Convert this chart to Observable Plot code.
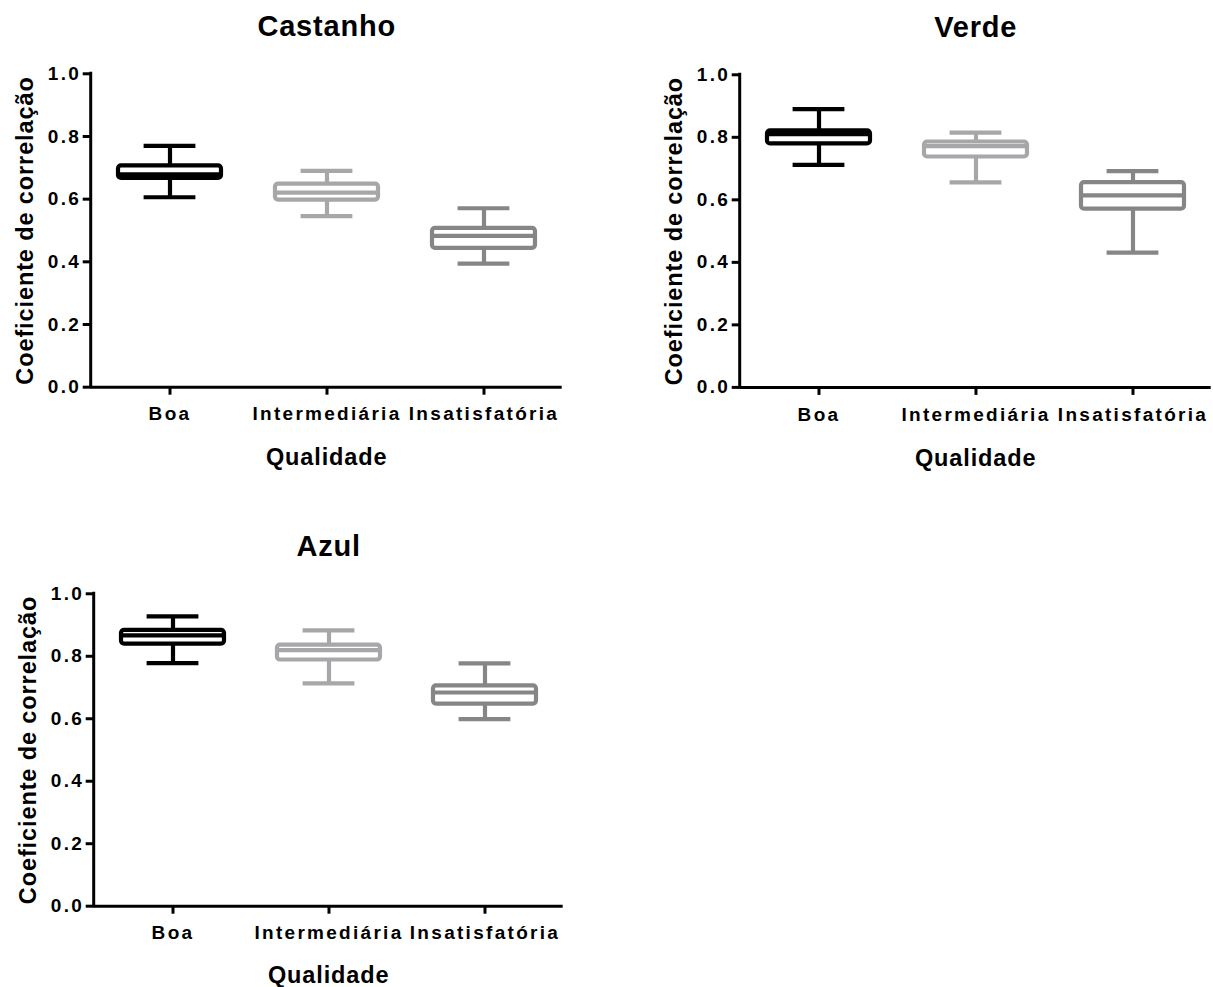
<!DOCTYPE html>
<html>
<head>
<meta charset="utf-8">
<script src="https://cdn.jsdelivr.net/npm/d3@7"></script>
<script src="https://cdn.jsdelivr.net/npm/@observablehq/plot@0.6"></script>
<style>
  html, body { margin: 0; padding: 0; background: #ffffff; }
  #wrap { position: relative; width: 1213px; height: 987px; overflow: hidden; background: #ffffff; }
  #wrap svg { position: absolute; }
</style>
</head>
<body>
<div id="wrap"></div>
<script>
// ---- data ----
const categories = ["Boa", "Intermediária", "Insatisfatória"];
const boxColors = ["#000000", "#a7a7a9", "#868686"];
const yTicks = [0, 0.2, 0.4, 0.6, 0.8, 1.0];
const yLabel = "Coeficiente de correlação";
const xLabel = "Qualidade";

const castanhoMin = [0.606, 0.546, 0.394];
const castanhoQ1  = [0.666, 0.597, 0.443];
const castanhoMed = [0.679, 0.621, 0.483];
const castanhoQ3  = [0.706, 0.648, 0.507];
const castanhoMax = [0.770, 0.690, 0.571];

const verdeMin = [0.712, 0.656, 0.431];
const verdeQ1  = [0.779, 0.737, 0.570];
const verdeMed = [0.810, 0.772, 0.614];
const verdeQ3  = [0.821, 0.785, 0.655];
const verdeMax = [0.890, 0.815, 0.692];

const azulMin = [0.778, 0.713, 0.599];
const azulQ1  = [0.839, 0.788, 0.647];
const azulMed = [0.867, 0.820, 0.684];
const azulQ3  = [0.883, 0.836, 0.705];
const azulMax = [0.928, 0.883, 0.777];

const font = "'Liberation Sans', Arial, Helvetica, sans-serif";

function panel(title, mins, q1s, meds, q3s, maxs, opts) {
  const rows = categories.map((c, i) => ({
    cat: c, min: mins[i], q1: q1s[i], med: meds[i], q3: q3s[i], max: maxs[i], color: boxColors[i]
  }));
  const mL = 90.7, mT = 73.3, frameH = opts.frameH;
  const H = 480;
  const W = mL + opts.frameW + opts.mR;
  const yAxisLine = (index, scales, values, dims) => {
    return d3.create("svg:line")
      .attr("x1", dims.marginLeft).attr("x2", dims.marginLeft)
      .attr("y1", scales.y(0)).attr("y2", scales.y(1))
      .attr("stroke", "#000").attr("stroke-width", 3)
      .attr("stroke-linecap", "square").node();
  };
  const svg = Plot.plot({
    width: W, height: H,
    marginLeft: mL, marginTop: mT, marginRight: opts.mR, marginBottom: H - mT - frameH,
    x: { domain: categories, paddingInner: 0.342, paddingOuter: 0.171, axis: null },
    y: { domain: [0, 1], axis: null },
    color: { type: "identity" },
    style: { fontFamily: font, background: "transparent", color: "#000", overflow: "visible" },
    marks: [
      Plot.ruleX(rows, { x: "cat", y1: "min", y2: "q1", stroke: "color", strokeWidth: 4.2 }),
      Plot.ruleX(rows, { x: "cat", y1: "q3", y2: "max", stroke: "color", strokeWidth: 4.2 }),
      Plot.barY(rows, { x: "cat", y1: "q1", y2: "q3", fill: "white", stroke: "color", strokeWidth: 4.2, rx: 3 }),
      Plot.tickY(rows, { x: "cat", y: "med", stroke: "color", strokeWidth: 4.2 }),
      Plot.tickY(rows, { x: "cat", y: "min", stroke: "color", strokeWidth: 4.2, insetLeft: 25.6, insetRight: 25.6 }),
      Plot.tickY(rows, { x: "cat", y: "max", stroke: "color", strokeWidth: 4.2, insetLeft: 25.6, insetRight: 25.6 }),
      Plot.ruleY([0], { stroke: "#000", strokeWidth: 3 }),
      yAxisLine,
      Plot.axisY(yTicks, { tickFormat: d3.format(".1f"), tickSize: 8, tickPadding: 2.1, strokeWidth: 3,
        fontSize: 19, fontWeight: "bold", label: null }),
      Plot.axisX({ tickSize: 8, tickPadding: 11.8, strokeWidth: 3, fontSize: 19, fontWeight: "bold", label: null }),
      Plot.text([title], { frameAnchor: "top", dy: -46.6, fontSize: 29, fontWeight: "bold",
        textAnchor: "middle", lineAnchor: "middle" }),
      Plot.text([xLabel], { frameAnchor: "bottom", dy: opts.xTitleDy, fontSize: 23.5, fontWeight: "bold",
        textAnchor: "middle", lineAnchor: "middle" }),
      Plot.text([yLabel], { frameAnchor: "left", dx: -65.7, rotate: -90, fontSize: 23.5, fontWeight: "bold",
        textAnchor: "middle", lineAnchor: "middle" })
    ]
  });
  const s = d3.select(svg);
  s.selectAll("g[aria-label='x-axis tick label'] text").style("letter-spacing", "2.3px");
  s.selectAll("g[aria-label='y-axis tick label'] text").style("letter-spacing", "2.3px");
  const spacing = { [title]: "0.8px", [xLabel]: "0.9px", [yLabel]: "0.9px" };
  s.selectAll("text").each(function () {
    const t = this.textContent;
    if (spacing[t]) this.style.letterSpacing = spacing[t];
  });
  svg.style.left = opts.ox + "px";
  svg.style.top = opts.oy + "px";
  return svg;
}

const wrap = document.getElementById("wrap");
wrap.appendChild(panel("Castanho", castanhoMin, castanhoQ1, castanhoMed, castanhoQ3, castanhoMax,
  { ox: 0, oy: 0, frameW: 471, frameH: 313.4, mR: 10, xTitleDy: 70.6 }));
wrap.appendChild(panel("Verde", verdeMin, verdeQ1, verdeMed, verdeQ3, verdeMax,
  { ox: 648.6, oy: 1.4, frameW: 471, frameH: 312.6, mR: 2.7, xTitleDy: 70.6 }));
wrap.appendChild(panel("Azul", azulMin, azulQ1, azulMed, azulQ3, azulMax,
  { ox: 3.3, oy: 520, frameW: 469, frameH: 312.4, mR: 10, xTitleDy: 69.5 }));
</script>
</body>
</html>
